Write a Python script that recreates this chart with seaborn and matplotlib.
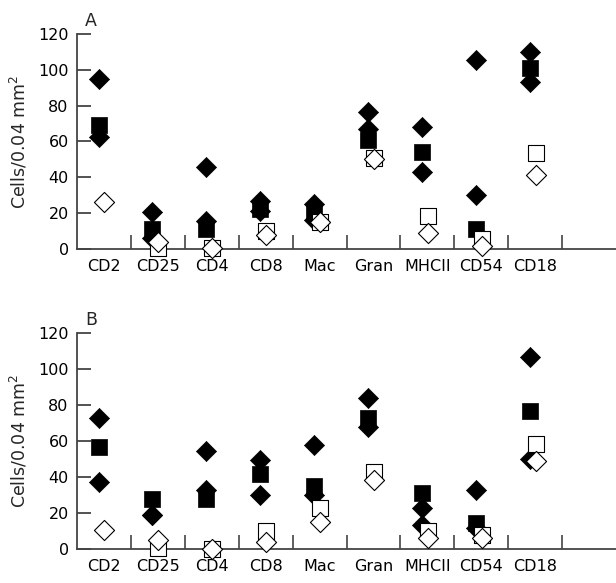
import numpy as np
import seaborn as sns
import matplotlib.pyplot as plt

# categories on the x axis (10th slot is left empty in the original)
cats = ["CD2", "CD25", "CD4", "CD8", "Mac", "Gran", "MHCII", "CD54", "CD18"]

# panel A values
a_dia_hi = [95, 20.5, 45.5, 27, 25, 76.5, 68, 105.5, 110]
a_dia_lo = [62.5, 6, 15.5, 21, 16, 67, 43, 30, 93]
a_sq = [69, 11, 11, 22.5, 20, 61, 54, 11, 101]
a_open_sq = [np.nan, 0.5, 0.5, 10, 15, 51, 18.5, 5.5, 53.5]
a_open_dia = [26, 4, 0.5, 8, 15, 50.5, 9, 1.5, 41.5]

# panel B values
b_dia_hi = [73, 18.7, 54.5, 49.6, 58, 84, 22.8, 33, 106.5]
b_dia_lo = [37.5, 18.7, 33, 29.8, 30.2, 68, 13.5, 11.7, 49.8]
b_sq = [56.5, 28, 28, 41.7, 34.8, 73, 31, 14.4, 76.5]
b_open_sq = [np.nan, 0.5, 0, 9.8, 22.8, 42.6, 9.8, 8, 58.3]
b_open_dia = [10.5, 4.8, 0, 4, 15, 38.5, 6.1, 6.1, 49]

yticks = [0, 20, 40, 60, 80, 100, 120]

sns.set_style("ticks")
plt.rcParams["font.family"] = ["DejaVu Sans"]

fig = plt.figure(figsize=(6.16, 5.83), dpi=100)
ax_a = fig.add_axes([0.125, 0.5729, 0.875, 0.3688])
ax_b = fig.add_axes([0.125, 0.0583, 0.875, 0.3705])

pos = np.arange(len(cats))
axis_col = "#444444"


def draw_panel(ax, dia_hi, dia_lo, sq, open_sq, open_dia, label):
    fx = pos - 0.10
    ox = pos + 0.01
    kw = dict(ax=ax, clip_on=False, legend=False)
    sns.scatterplot(x=fx, y=dia_hi, marker="D", s=105, color="black",
                    edgecolor="black", linewidth=0.5, zorder=3, **kw)
    sns.scatterplot(x=fx, y=dia_lo, marker="D", s=105, color="black",
                    edgecolor="black", linewidth=0.5, zorder=3, **kw)
    sns.scatterplot(x=fx, y=sq, marker="s", s=140, color="black",
                    edgecolor="black", linewidth=0.5, zorder=4, **kw)
    sns.scatterplot(x=ox, y=open_sq, marker="s", s=140, color="white",
                    edgecolor="black", linewidth=0.8, zorder=5, **kw)
    sns.scatterplot(x=ox, y=open_dia, marker="D", s=105, color="white",
                    edgecolor="black", linewidth=0.8, zorder=6, **kw)

    ax.set_xlim(-0.5, 9.5)
    ax.set_ylim(0, 120)
    ax.set_yticks(yticks)
    ax.set_xticks(pos)
    ax.set_xticklabels(cats)
    ax.set_xticks(np.arange(len(cats)) + 0.5, minor=True)
    ax.tick_params(axis="x", which="major", length=0, pad=7,
                   labelsize=11.5, colors="black")
    ax.tick_params(axis="x", which="minor", direction="in", length=10,
                   width=1.2, color=axis_col)
    ax.tick_params(axis="y", direction="in", length=10, width=1.3,
                   color=axis_col, pad=6, labelsize=11.5, labelcolor="black")
    for side in ["top", "right"]:
        ax.spines[side].set_visible(False)
    for side in ["left", "bottom"]:
        ax.spines[side].set_color(axis_col)
        ax.spines[side].set_linewidth(1.3)
    ax.set_ylabel("Cells/0.04 mm$^2$", fontsize=12.5, labelpad=6)
    ax.set_xlabel("")
    ax.text(0.015, 1.02, label, transform=ax.transAxes, fontsize=12.5,
            ha="left", va="bottom")


draw_panel(ax_a, a_dia_hi, a_dia_lo, a_sq, a_open_sq, a_open_dia, "A")
draw_panel(ax_b, b_dia_hi, b_dia_lo, b_sq, b_open_sq, b_open_dia, "B")

fig.savefig("out.png", dpi=100)
